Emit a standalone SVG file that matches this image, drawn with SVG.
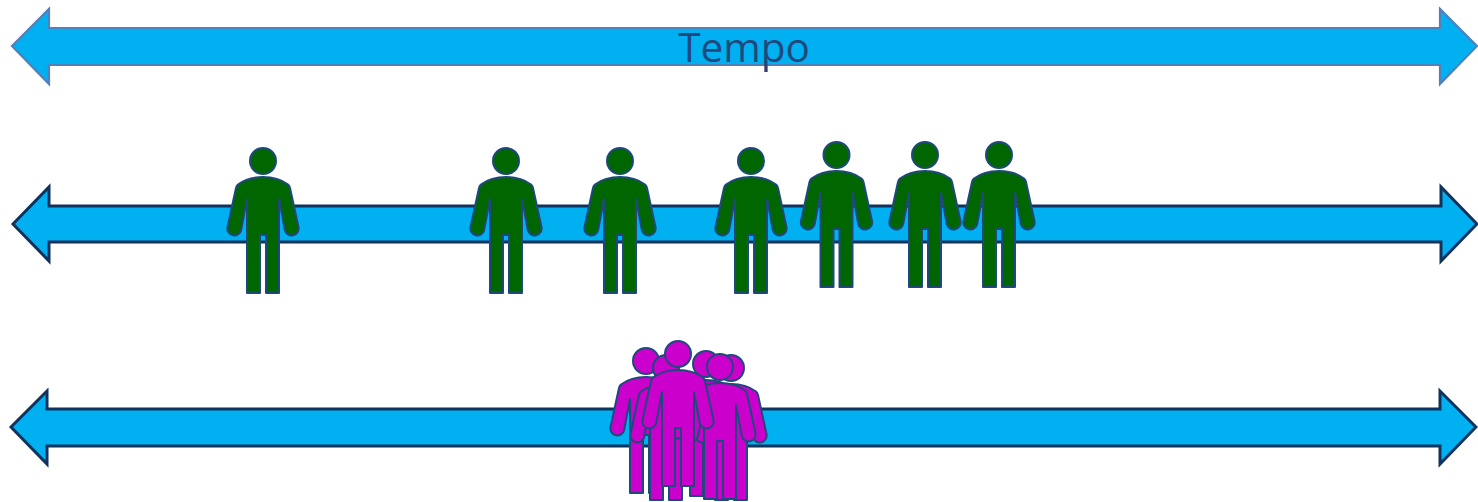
<svg xmlns="http://www.w3.org/2000/svg" xmlns:xlink="http://www.w3.org/1999/xlink" width="1478" height="502" viewBox="0 0 1478 502">
<style>
.bar{fill:#00B0F0;stroke-linejoin:miter}
.light{stroke:#4F81BD;stroke-width:2.2}
.dark{stroke:#10325C;stroke-width:3}
.p{stroke:#1F497D;stroke-width:2;stroke-linejoin:round}
.green{fill:#006600}
.pink{fill:#CC00CC}
.t{font-family:"Open Sans","Noto Sans",sans-serif;font-size:40.500px;fill:#1F497D}
</style>
<defs>
<g id="person">
<circle cx="0" cy="-16" r="13"/>
<path d="M0,0 C10,0 19,3 25,7.500 Q26.500,9 27,11 L35.500,50 A7,7 0 0 1 21.800,53 L16,22 L16,116 L3,116 L3,58 L-3,58 L-3,116 L-16,116 L-16,22 L-21.800,53 A7,7 0 0 1 -35.500,50 L-27,11 Q-26.500,9 -25,7.500 C-19,3 -10,0 0,0 Z"/>
</g>
</defs>
<g id="connectors">
<path id="timeline-top" class="bar light" d="M12,46 L49,9 L49,28 L1440,28 L1440,9 L1477,46 L1440,84 L1440,65 L49,65 L49,84 Z"/>
<path id="timeline-mid" class="bar dark" d="M13,224 L49,187 L49,206 L1441,206 L1441,187 L1477,224 L1441,261 L1441,242 L49,242 L49,261 Z"/>
<path id="timeline-bottom" class="bar dark" d="M11,427 L47,391 L47,409 L1440,409 L1440,391 L1476,427 L1440,464 L1440,446 L47,446 L47,464 Z"/>
</g>
<g id="label-tempo"><text class="t" x="744" y="62" text-anchor="middle">Tempo</text></g>
<g id="green-1"><use class="p green" xlink:href="#person" href="#person" x="263" y="177"/></g>
<g id="green-2"><use class="p green" xlink:href="#person" href="#person" x="506" y="177"/></g>
<g id="green-3"><use class="p green" xlink:href="#person" href="#person" x="620" y="177"/></g>
<g id="green-4"><use class="p green" xlink:href="#person" href="#person" x="751" y="177"/></g>
<g id="green-5"><use class="p green" xlink:href="#person" href="#person" x="836.500" y="171"/></g>
<g id="green-6"><use class="p green" xlink:href="#person" href="#person" x="925" y="171"/></g>
<g id="green-7"><use class="p green" xlink:href="#person" href="#person" x="999" y="171"/></g>
<g id="pink-1"><use class="p pink" xlink:href="#person" href="#person" x="646" y="377"/></g>
<g id="pink-2"><use class="p pink" xlink:href="#person" href="#person" x="666" y="384"/></g>
<g id="pink-3"><use class="p pink" xlink:href="#person" href="#person" x="706" y="380"/></g>
<g id="pink-4"><use class="p pink" xlink:href="#person" href="#person" x="731" y="384"/></g>
<g id="pink-5"><use class="p pink" xlink:href="#person" href="#person" x="720" y="383"/></g>
<g id="pink-6"><use class="p pink" xlink:href="#person" href="#person" x="678" y="370"/></g>
</svg>
